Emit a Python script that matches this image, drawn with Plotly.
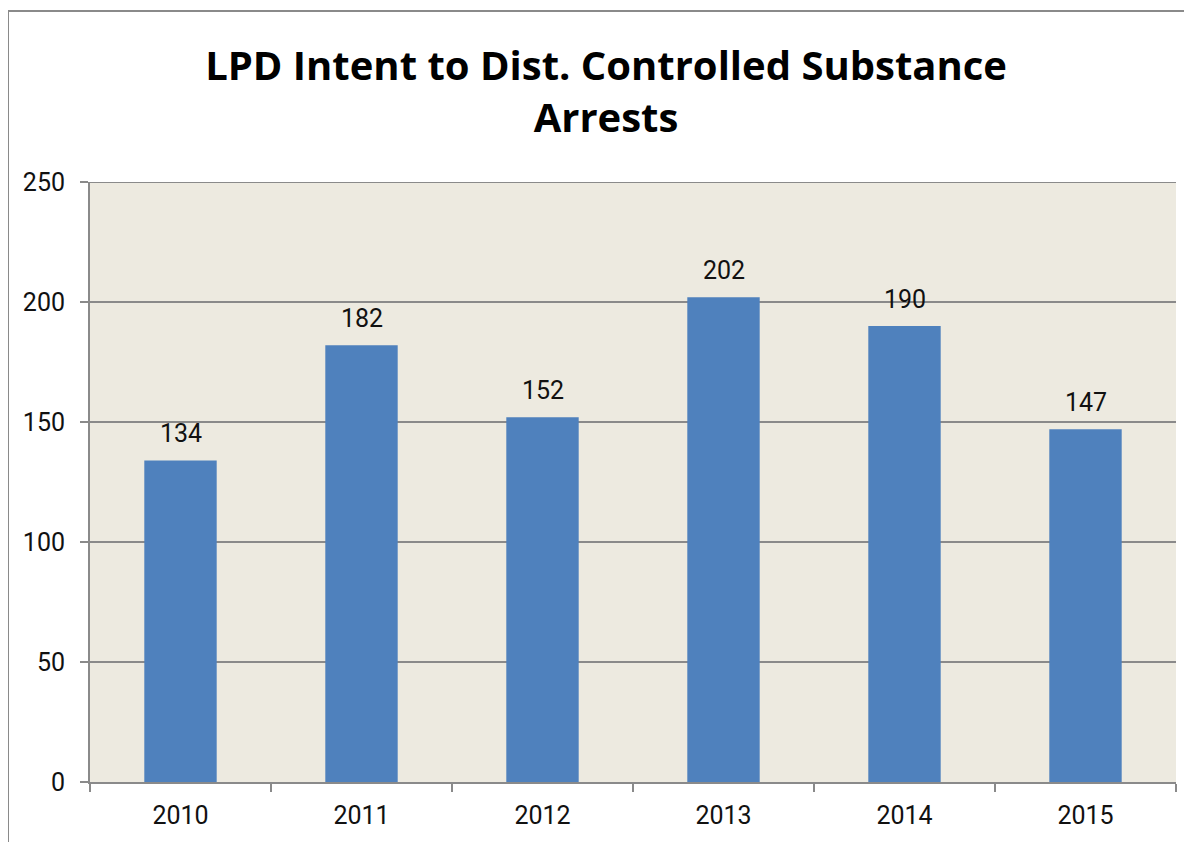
import plotly.graph_objects as go

years = ["2010", "2011", "2012", "2013", "2014", "2015"]
arrests = [134, 182, 152, 202, 190, 147]
y_ticks = [0, 50, 100, 150, 200, 250]

title_text = "LPD Intent to Dist. Controlled Substance<br>Arrests"

narrow = "Liberation Sans Narrow, Arial Narrow, Roboto, sans-serif"

fig = go.Figure()
fig.add_trace(go.Bar(
    x=years, y=arrests,
    marker=dict(color="#4F81BD", line=dict(width=0)),
    hoverinfo="x+y",
))

# data labels: category axis annotations positioned by category index
for i, v in enumerate(arrests):
    fig.add_annotation(x=i, y=v, xref="x", yref="y", text=str(v), showarrow=False, yshift=27,
                       font=dict(family=narrow, size=25, color="#111111"))

# outer chart border (cropped on right and bottom)
fig.add_shape(type="rect", xref="paper", yref="paper",
              x0=-0.0755, x1=1.03, y0=-0.12, y1=1.285,
              line=dict(color="#8a8a8a", width=2), fillcolor="rgba(0,0,0,0)",
              layer="below")

fig.update_layout(
    width=1192, height=842,
    margin=dict(l=82, r=24, t=174, b=68, autoexpand=False),
    paper_bgcolor="white",
    plot_bgcolor="#EDEAE0",
    bargap=0.6,
    showlegend=False,
    title=dict(text=title_text, x=0.5017, xanchor="center", y=0.915, yanchor="middle",
               font=dict(family="Open Sans, Noto Sans, sans-serif", size=40, color="black", weight="bold")),
    xaxis=dict(
        type="category", showgrid=False,
        range=[-0.5, 5.5],
        showline=True, linecolor="#8a8a8a", linewidth=2,
        ticks="outside", tickson="boundaries", ticklen=8, tickcolor="#8a8a8a", tickwidth=2,
        tickfont=dict(family=narrow, size=25, color="#111111"),
        tickangle=0,
        ticklabelstandoff=10,
    ),
    yaxis=dict(
        range=[0, 250], tickvals=y_ticks,
        showgrid=True, gridcolor="#8a8a8a", gridwidth=2,
        showline=True, linecolor="#8a8a8a", linewidth=2,
        ticks="outside", ticklen=8, tickcolor="#8a8a8a", tickwidth=2,
        tickfont=dict(family=narrow, size=25, color="#111111"),
        ticklabelstandoff=10,
        zeroline=False,
    ),
)

# top gridline at 250 drawn on top edge of plot area
fig.add_shape(type="line", xref="paper", yref="y", x0=0, x1=1, y0=250, y1=250,
              line=dict(color="#8a8a8a", width=2))

fig.write_html("out.html")
